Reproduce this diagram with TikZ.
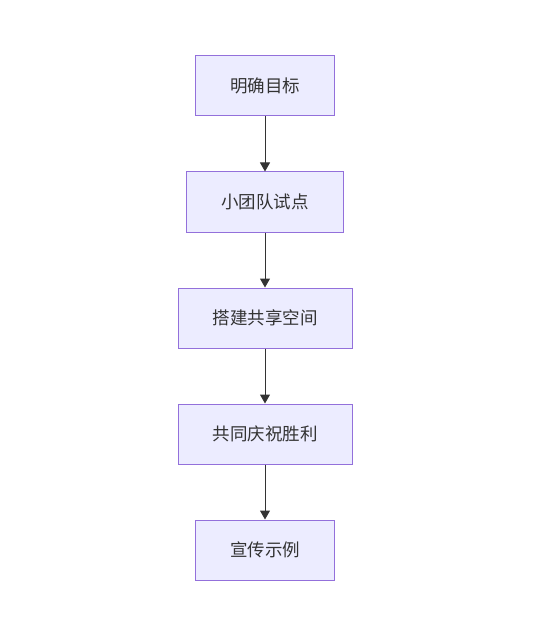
\documentclass[tikz,border=0pt]{standalone}
\usepackage{fontspec}
\newfontfamily\cjk{Noto Sans CJK SC}
\usetikzlibrary{positioning,arrows.meta}

\definecolor{stepfill}{HTML}{ECECFF}
\definecolor{stepline}{HTML}{9370DB}
\definecolor{flowline}{HTML}{333333}

\tikzset{
	stepbox/.style={draw=stepline, fill=stepfill, line width=1pt, minimum height=60pt,
		inner xsep=34.5pt, inner ysep=0pt, font=\cjk\fontsize{17.5}{20}\selectfont, text=flowline},
	flow/.style={draw=flowline, line width=1pt, -{Triangle[width=10pt,length=9pt]}}
}

\begin{document}
\begin{tikzpicture}[node distance=55pt]
	\useasboundingbox (0,0) rectangle (544pt,-636pt);

	%% steps
	\node[stepbox] (goal) at (265pt,-86pt) {明确目标};
	\node[stepbox, below=of goal] (pilot) {小团队试点};
	\node[stepbox, below=of pilot] (space) {搭建共享空间};
	\node[stepbox, below=of space] (celebrate) {共同庆祝胜利};
	\node[stepbox, below=of celebrate] (showcase) {宣传示例};

	%% arrows
	\draw[flow] (goal) -- (pilot);
	\draw[flow] (pilot) -- (space);
	\draw[flow] (space) -- (celebrate);
	\draw[flow] (celebrate) -- (showcase);
\end{tikzpicture}
\end{document}
